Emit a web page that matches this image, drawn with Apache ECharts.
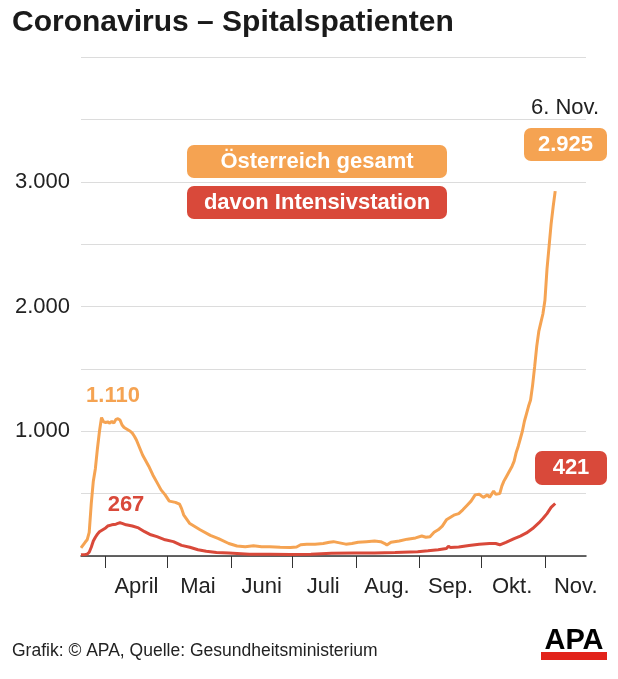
<!DOCTYPE html>
<html>
<head>
<meta charset="utf-8">
<title>Coronavirus – Spitalspatienten</title>
<script src="https://cdn.jsdelivr.net/npm/echarts@6/dist/echarts.min.js"></script>
<style>
  html, body { margin: 0; padding: 0; background: #fff; }
  #chart { width: 618px; height: 679px; }
</style>
</head>
<body>
<div id="chart"></div>
<script>
// Spitalspatienten Österreich gesamt (Tag, Wert)
const totalDays = ['03-20','03-22','03-23','03-24','03-25','03-26','03-27','03-28','03-29','03-30','03-31',
  '04-01','04-02','04-03','04-04','04-05','04-06','04-07','04-08','04-09','04-10','04-11','04-12','04-13',
  '04-14','04-15','04-16','04-17','04-18','04-19','04-20','04-22','04-24','04-26','04-28','04-30',
  '05-02','05-05','05-07','05-08','05-09','05-12','05-17','05-22','05-26','05-31',
  '06-04','06-08','06-12','06-16','06-20','06-25','06-30',
  '07-03','07-05','07-08','07-12','07-16','07-19','07-21','07-24','07-27','07-30',
  '08-02','08-06','08-10','08-13','08-15','08-16','08-18','08-22','08-26','08-30',
  '09-02','09-04','09-06','09-08','09-10','09-12','09-14','09-16','09-18','09-20','09-22','09-24','09-26','09-28','09-30',
  '10-02','10-04','10-05','10-07','10-08','10-10','10-11','10-12','10-13','10-14','10-15','10-16','10-17','10-18',
  '10-19','10-20','10-21','10-22','10-23','10-24','10-25','10-26','10-27','10-28','10-29','10-30','10-31',
  '11-01','11-02','11-03','11-04','11-05','11-06'];
const totalValues = [65,110,130,190,420,600,700,860,1000,1110,1075,
  1070,1075,1065,1080,1065,1095,1100,1090,1050,1030,1020,1010,1000,
  985,960,930,890,850,810,780,720,650,590,530,490,
  440,430,415,380,330,260,210,165,140,100,
  80,75,82,75,75,70,68,
  72,90,95,95,100,110,115,105,95,100,
  110,115,120,115,100,88,110,120,135,145,
  160,150,155,190,210,240,290,310,330,340,370,405,440,490,495,
  470,490,470,520,495,500,560,600,630,660,690,720,760,830,
  880,940,1000,1080,1140,1200,1250,1370,1520,1680,1800,1870,1940,
  2050,2300,2480,2660,2800,2925];

// davon Intensivstation (Tag, Wert)
const icuDays = ['03-20','03-22','03-23','03-24','03-25','03-26','03-27','03-28','03-29','03-30',
  '04-01','04-02','04-04','04-06','04-08','04-09','04-11','04-14','04-17','04-20','04-23','04-26','04-30',
  '05-04','05-08','05-12','05-16','05-20','05-25','05-31',
  '06-10','06-20','06-30','07-10','07-20','07-31','08-10','08-20','08-31',
  '09-05','09-10','09-14','09-15','09-16','09-20','09-25','09-30',
  '10-05','10-08','10-10','10-13','10-17','10-20','10-23','10-26','10-29','10-31',
  '11-02','11-04','11-06'];
const icuValues = [10,12,15,30,70,120,150,175,195,205,
  225,240,250,255,267,262,250,240,225,195,170,155,130,
  115,85,70,50,38,28,25,
  15,15,12,15,22,25,25,28,35,
  42,50,60,78,68,72,85,95,
  100,100,90,110,140,160,185,220,265,300,
  340,390,421];

const firstDay = '03-20';
const lastDay = '11-21';
const monthTickDays = ['04-01','05-01','06-01','07-01','08-01','09-01','10-01','11-01'];
const monthLabelDays = ['04-16','05-16','06-16','07-16','08-16','09-16','10-16','11-16'];
const monthLabels = ['April','Mai','Juni','Juli','Aug.','Sep.','Okt.','Nov.'];
const yTicks = [1000, 2000, 3000];
const yTickLabels = ['1.000', '2.000', '3.000'];

const FONT = '"Liberation Sans", Arial, Helvetica, sans-serif';
const ORANGE = '#f5a352';
const RED = '#d9493a';
const TEXT = '#222';

// Tag -> Tage seit Beginn der Reihe
function dayNo(day) {
  const ms = new Date('2020-' + day + 'T12:00:00') - new Date('2020-' + firstDay + 'T12:00:00');
  return Math.round(ms / 86400000);
}
const labelPos = monthLabelDays.map(dayNo);

const chart = echarts.init(document.getElementById('chart'));

function label(text, x, y, color, size, bold, align) {
  return {
    type: 'text', x: x, y: y, z: 20,
    style: {
      text: text, fill: color, fontSize: size, fontFamily: FONT,
      fontWeight: bold ? 'bold' : 'normal',
      textAlign: align || 'center', textVerticalAlign: 'middle'
    }
  };
}
function badge(x, y, w, h, color) {
  return { type: 'rect', z: 19, shape: { x: x, y: y, width: w, height: h, r: 7 }, style: { fill: color } };
}

const option = {
  backgroundColor: '#fff',
  animation: false,
  grid: { left: 81, right: 32, top: 57, bottom: 123 },
  xAxis: {
    type: 'value',
    min: 0,
    max: dayNo(lastDay),
    axisLine: { show: true, onZero: false, lineStyle: { color: '#333', width: 1.5 } },
    axisTick: {
      show: true, length: 12, inside: false,
      lineStyle: { color: '#333', width: 1 },
      customValues: monthTickDays.map(dayNo)
    },
    axisLabel: {
      customValues: labelPos,
      formatter: function (v) {
        const i = labelPos.indexOf(v);
        return i >= 0 ? monthLabels[i] : '';
      },
      color: TEXT, fontSize: 22, fontFamily: FONT, margin: 20
    },
    splitLine: { show: false }
  },
  yAxis: {
    type: 'value',
    min: 0, max: 4000, interval: 500,
    axisLine: { show: false },
    axisTick: { show: false },
    splitLine: { lineStyle: { color: '#dcdcdc', width: 1 } },
    axisLabel: {
      formatter: function (v) {
        const i = yTicks.indexOf(v);
        return i >= 0 ? yTickLabels[i] : '';
      },
      color: TEXT, fontSize: 22, fontFamily: FONT, margin: 11
    }
  },
  series: [
    {
      name: 'Österreich gesamt',
      type: 'line',
      showSymbol: false,
      z: 3,
      lineStyle: { color: ORANGE, width: 3 },
      itemStyle: { color: ORANGE },
      data: totalDays.map((d, i) => [dayNo(d), totalValues[i]])
    },
    {
      name: 'davon Intensivstation',
      type: 'line',
      showSymbol: false,
      z: 4,
      lineStyle: { color: RED, width: 3 },
      itemStyle: { color: RED },
      data: icuDays.map((d, i) => [dayNo(d), icuValues[i]])
    }
  ],
  graphic: [
    label('Coronavirus – Spitalspatienten', 12, 23, '#1a1a1a', 30, true, 'left'),
    label('6. Nov.', 565, 108, TEXT, 22, false),
    badge(524, 128, 83, 33, ORANGE),
    label('2.925', 565.5, 145, '#fff', 22, true),
    badge(187, 145, 260, 33, ORANGE),
    label('Österreich gesamt', 317, 162, '#fff', 22, true),
    badge(187, 186, 260, 33, RED),
    label('davon Intensivstation', 317, 203, '#fff', 22, true),
    label('1.110', 113, 396, ORANGE, 22, true),
    label('267', 126, 505, RED, 22, true),
    badge(535, 451, 72, 34, RED),
    label('421', 571, 468, '#fff', 22, true),
    label('Grafik: © APA, Quelle: Gesundheitsministerium', 12, 651, TEXT, 17.5, false, 'left'),
    label('APA', 574, 641, '#000', 29, true),
    { type: 'rect', z: 19, shape: { x: 541, y: 652, width: 66, height: 8 }, style: { fill: '#e2231a' } }
  ]
};

chart.setOption(option);
window.addEventListener('resize', function () {
  chart.resize();
});
</script>
</body>
</html>
